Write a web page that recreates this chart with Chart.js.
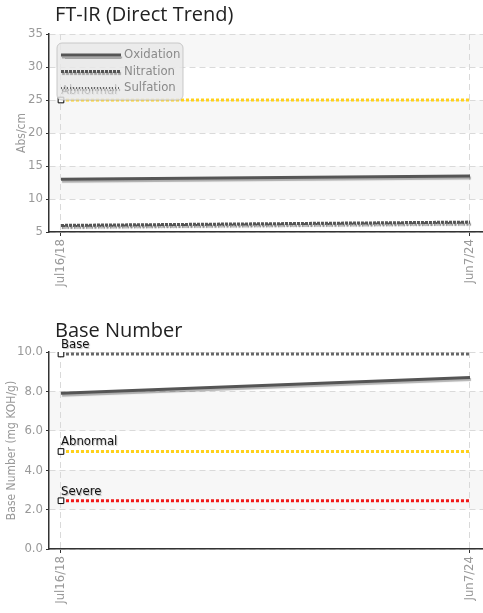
<!DOCTYPE html>
<html><head><meta charset="utf-8">
<script src="https://cdn.jsdelivr.net/npm/chart.js@4.4.1/dist/chart.umd.min.js"></script>
<style>
html,body{margin:0;padding:0;background:#fff;overflow:hidden;}
canvas{position:absolute;left:0;display:block;}
#c1{top:0;}
#c2{top:300px;}
</style></head><body>
<canvas id="c1" width="483" height="300" style="width:483px;height:300px"></canvas>
<canvas id="c2" width="483" height="313" style="width:483px;height:313px"></canvas>
<script>
// ---- data ----
const dates = ['Jul16/18', 'Jun7/24'];
const oxidation = [13.0, 13.5];
const nitration = [6.0, 6.5];
const sulfation = [5.9, 6.4];
const ftirAbnormal = [25, 25];
const baseNumber = [7.9, 8.7];
const bnBase = [9.9, 9.9];
const bnAbnormal = [4.95, 4.95];
const bnSevere = [2.45, 2.45];

const NARROW = "'Liberation Sans Narrow','DejaVu Sans Condensed','Arial Narrow',sans-serif";
const TITLE_FONT = "'Open Sans','Noto Sans',sans-serif";
const pts = arr => arr.map((v, i) => ({x: i, y: v}));

// ---- plugins ----
const bands = {
  id: 'bands',
  beforeDraw(chart) {
    const {ctx, chartArea: a, scales: {y}} = chart;
    const t = y.ticks.map(k => k.value).sort((p, q) => p - q);
    ctx.save();
    ctx.fillStyle = '#f7f7f7';
    for (let i = 0; i < t.length - 1; i++) {
      if (i % 2 === 1) {
        const y1 = y.getPixelForValue(t[i + 1]), y2 = y.getPixelForValue(t[i]);
        ctx.fillRect(a.left, y1, a.right - a.left, y2 - y1);
      }
    }
    ctx.restore();
  },
  afterLayout(chart) {
    if (chart.titleBlock) {
      const d = chart.chartArea.left + 6 - chart.titleBlock.left;
      chart.titleBlock.left += d;
      chart.titleBlock.right += d;
    }
  }
};

const shadow = {
  id: 'shadow',
  beforeDatasetDraw(chart, args) {
    if (!args.meta._dataset.shadow) return;
    const ctx = chart.ctx;
    ctx.save();
    ctx.shadowColor = 'rgba(0,0,0,0.3)';
    ctx.shadowOffsetX = 1;
    ctx.shadowOffsetY = 2;
    ctx.shadowBlur = 1;
  },
  afterDatasetDraw(chart, args) {
    if (!args.meta._dataset.shadow) return;
    chart.ctx.restore();
  }
};

const markLabels = {
  id: 'markLabels',
  afterDatasetsDraw(chart) {
    const ctx = chart.ctx;
    chart.data.datasets.forEach((d, i) => {
      if (!d.markLabel) return;
      const p = chart.getDatasetMeta(i).data[0];
      ctx.save();
      ctx.font = '13px ' + NARROW;
      ctx.fillStyle = '#111';
      ctx.textBaseline = 'bottom';
      ctx.textAlign = 'left';
      ctx.shadowColor = 'rgba(0,0,0,0.25)';
      ctx.shadowOffsetX = 1; ctx.shadowOffsetY = 1; ctx.shadowBlur = 1;
      ctx.fillText(d.markLabel, p.x, p.y - 3);
      ctx.restore();
    });
  }
};

const boxLegend = {
  id: 'boxLegend',
  afterDraw(chart, args, opts) {
    if (!opts.show) return;
    const {ctx, chartArea: a} = chart;
    const items = chart.data.datasets.filter(d => !d.markLabel);
    const x = a.left + 8, y = a.top + 9, w = 126, h = 57, r = 5;
    ctx.save();
    ctx.beginPath();
    ctx.moveTo(x + r, y); ctx.lineTo(x + w - r, y); ctx.arcTo(x + w, y, x + w, y + r, r);
    ctx.lineTo(x + w, y + h - r); ctx.arcTo(x + w, y + h, x + w - r, y + h, r);
    ctx.lineTo(x + r, y + h); ctx.arcTo(x, y + h, x, y + h - r, r);
    ctx.lineTo(x, y + r); ctx.arcTo(x, y, x + r, y, r); ctx.closePath();
    ctx.fillStyle = 'rgba(232,232,232,0.82)';
    ctx.fill();
    ctx.strokeStyle = 'rgba(195,195,195,0.9)';
    ctx.lineWidth = 1;
    ctx.stroke();
    items.forEach((d, i) => {
      const cy = a.top + 21 + i * 16.5;
      ctx.save();
      ctx.shadowColor = 'rgba(0,0,0,0.3)';
      ctx.shadowOffsetX = 1; ctx.shadowOffsetY = 2; ctx.shadowBlur = 1;
      ctx.strokeStyle = d.borderColor;
      ctx.lineWidth = d.borderWidth;
      ctx.setLineDash(d.borderDash || []);
      ctx.beginPath();
      ctx.moveTo(a.left + 12, cy); ctx.lineTo(a.left + 72, cy);
      ctx.stroke();
      ctx.restore();
      ctx.font = '13px ' + NARROW;
      ctx.fillStyle = '#8a8a8a';
      ctx.textBaseline = 'middle';
      ctx.fillText(d.label, a.left + 75, cy);
    });
    ctx.restore();
  }
};

function xScale(height) {
  return {
    type: 'linear', min: -0.0293, max: 1.0318,
    afterBuildTicks(s) { s.ticks = dates.map((_, i) => ({value: i})); },
    afterFit(s) { s.height = height; s.paddingLeft = 0; s.paddingRight = 0; },
    ticks: {
      callback: v => dates[v], autoSkip: false, minRotation: 90, maxRotation: 90,
      color: '#999', font: {family: NARROW, size: 13}, padding: 3
    },
    grid: {color: '#d9d9d9', tickColor: '#333', tickLength: 4, lineWidth: 1},
    border: {display: true, color: '#333', width: 1.5, dash: [6, 4]}
  };
}
function yScale(min, max, step, title, titlePad, fmt) {
  return {
    min, max,
    afterFit(s) { s.width = 49; s.paddingTop = 0; s.paddingBottom = 0; s.paddingLeft = 0; s.paddingRight = 0; },
    ticks: {stepSize: step, color: '#999', font: {family: NARROW, size: 13}, padding: 3,
      callback: v => fmt(v)},
    grid: {color: '#dadada', tickColor: '#333', tickLength: 3},
    border: {display: true, color: '#333', width: 1.5, dash: [6, 4]},
    title: {display: true, text: title, color: '#999', font: {family: NARROW, size: 12},
      padding: {top: titlePad, bottom: 0}}
  };
}
function titleOpt(text, pt, pb) {
  return {display: true, text, align: 'start', color: '#222',
    font: {family: TITLE_FONT, size: 20, weight: 'normal'}, padding: {top: pt, bottom: pb}};
}
function mark(label, data, color) {
  return {label, markLabel: label, data: pts(data), borderColor: color, borderWidth: 3,
    borderDash: [3, 2], pointStyle: 'rect', pointRadius: [4, 0], pointHoverRadius: 0,
    pointBackgroundColor: '#fff', pointBorderColor: '#000', pointBorderWidth: 1};
}

Chart.defaults.animation = false;

new Chart(document.getElementById('c1'), {
  type: 'line',
  data: {datasets: [
    {label: 'Oxidation', data: pts(oxidation), borderColor: '#555', borderWidth: 3, pointRadius: 0, shadow: true},
    {label: 'Nitration', data: pts(nitration), borderColor: '#555', borderWidth: 3, borderDash: [3, 1], pointRadius: 0, shadow: true},
    {label: 'Sulfation', data: pts(sulfation), borderColor: '#666', borderWidth: 2, borderDash: [1, 2], pointRadius: 0, shadow: true},
    mark('Abnormal', ftirAbnormal, '#ffd11a')
  ]},
  options: {
    responsive: false,
    layout: {padding: 0, autoPadding: false},
    plugins: {
      legend: {display: false}, tooltip: {enabled: false},
      title: titleOpt('FT-IR (Direct Trend)', 3, 7),
      boxLegend: {show: true}
    },
    scales: {
      x: xScale(68),
      y: yScale(5, 35, 5, 'Abs/cm', 15, v => String(v))
    }
  },
  plugins: [bands, shadow, markLabels, boxLegend]
});

new Chart(document.getElementById('c2'), {
  type: 'line',
  data: {datasets: [
    {label: 'Base Number', data: pts(baseNumber), borderColor: '#555', borderWidth: 3, pointRadius: 0, shadow: true},
    mark('Base', bnBase, '#666'),
    mark('Abnormal', bnAbnormal, '#ffd11a'),
    mark('Severe', bnSevere, '#f01818')
  ]},
  options: {
    responsive: false,
    layout: {padding: 0, autoPadding: false},
    plugins: {
      legend: {display: false}, tooltip: {enabled: false},
      title: titleOpt('Base Number', 19, 9),
      boxLegend: {show: false}
    },
    scales: {
      x: xScale(64),
      y: yScale(0, 10, 2, 'Base Number (mg KOH/g)', 5, v => v.toFixed(1))
    }
  },
  plugins: [bands, shadow, markLabels, boxLegend]
});
</script>
</body></html>
